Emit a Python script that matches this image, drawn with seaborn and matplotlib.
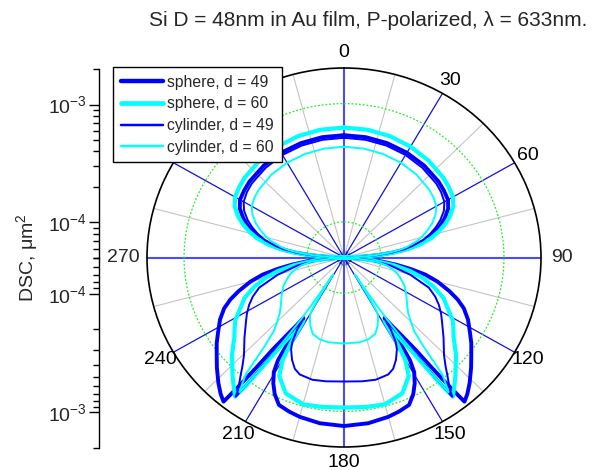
import numpy as np
import pandas as pd
import matplotlib
matplotlib.use("Agg")
import matplotlib.pyplot as plt
import seaborn as sns
from matplotlib.lines import Line2D
from matplotlib.ticker import LogLocator, NullFormatter, LogFormatterSciNotation

sns.set_theme(style="ticks")
plt.rcParams['font.family'] = ['Liberation Sans', 'DejaVu Sans']
plt.rcParams['mathtext.fontset'] = 'custom'
plt.rcParams['mathtext.rm'] = 'Liberation Sans'
plt.rcParams['mathtext.it'] = 'Liberation Sans:italic'
plt.rcParams['mathtext.bf'] = 'Liberation Sans:bold'

# ---------------- data (angles in degrees 0..180; the chart is mirror-symmetric) -------------
series_names = ["sphere, d = 49", "sphere, d = 60", "cylinder, d = 49", "cylinder, d = 60"]

theta_sphere_49 = [0, 10, 20, 30, 40, 50, 55, 60, 64, 68, 71, 74, 77, 80, 82, 84, 86, 87.5, 88.5,
                   91.5, 94, 96, 98, 100, 102.3, 105, 108.4, 111, 113.8, 117.5, 121.5, 125, 128.7,
                   132, 136, 139, 141.2,
                   141.8, 142.5, 143.3, 144.5, 146, 147.2, 147.7, 148.3, 149.5, 151.6, 154, 157,
                   161, 165, 172, 180]
dsc_sphere_49 = [5.41e-4, 5.39e-4, 5.34e-4, 5.27e-4, 5.17e-4, 5.02e-4, 4.89e-4, 4.74e-4, 4.38e-4,
                 3.82e-4, 3.37e-4, 2.91e-4, 2.47e-4, 1.95e-4, 1.64e-4, 1.26e-4, 9.32e-5, 6.96e-5,
                 5.0e-5,
                 5.0e-5, 7.10e-5, 9.88e-5, 1.32e-4, 1.74e-4, 2.37e-4, 3.06e-4, 4.01e-4, 4.88e-4,
                 5.81e-4, 6.85e-4, 7.93e-4, 9.18e-4, 1.06e-3, 1.23e-3, 1.48e-3, 1.69e-3, 1.83e-3,
                 1.24e-3, 7.63e-4, 4.69e-4, 3.30e-4, 2.47e-4, 2.03e-4, 3.50e-4, 5.27e-4, 6.66e-4,
                 8.09e-4, 9.64e-4, 1.13e-3, 1.19e-3, 1.24e-3, 1.30e-3, 1.33e-3]

theta_sphere_60 = [0, 10, 20, 30, 40, 50, 55, 60, 64, 68, 71, 74, 77, 80, 82, 84, 86, 87.5, 88.5,
                   91.5, 94, 96, 99, 102, 105, 109, 113, 117, 121, 124, 127, 132, 135, 138, 141, 143,
                   143.6, 144.2, 145, 146.5, 148.5, 149.2, 150, 152.3, 157.6, 165, 172, 180]
dsc_sphere_60 = [6.28e-4, 6.25e-4, 6.18e-4, 6.04e-4, 5.87e-4, 5.64e-4, 5.48e-4, 5.27e-4, 4.88e-4,
                 4.25e-4, 3.71e-4, 3.18e-4, 2.67e-4, 2.11e-4, 1.70e-4, 1.30e-4, 9.51e-5, 7.10e-5,
                 5.0e-5,
                 5.0e-5, 6.70e-5, 8.62e-5, 1.27e-4, 1.77e-4, 2.28e-4, 3.00e-4, 3.79e-4, 4.42e-4,
                 5.38e-4, 5.92e-4, 6.53e-4, 8.41e-4, 9.64e-4, 1.13e-3, 1.32e-3, 1.48e-3,
                 1.13e-3, 7.63e-4, 4.97e-4, 3.18e-4, 2.15e-4, 3.50e-4, 4.97e-4, 6.79e-4, 8.74e-4,
                 9.64e-4, 9.45e-4, 9.27e-4]

theta_cyl_49 = [0, 10, 20, 30, 40, 50, 55, 60, 64, 68, 71, 74, 77, 80, 82, 84, 86, 87.5, 88.5,
                91.5, 94, 96, 100, 105.2, 110.3, 114, 117.5, 121, 124.2, 130, 135.4, 138, 140,
                142.4, 143.2,
                143.7, 144.3, 145.3, 146.5, 147.5, 148, 149.5, 151, 154, 157, 160, 166, 172, 180]
dsc_cyl_49 = [5.14e-4, 5.12e-4, 5.08e-4, 5.01e-4, 4.89e-4, 4.74e-4, 4.60e-4, 4.38e-4, 4.01e-4,
              3.50e-4, 3.09e-4, 2.69e-4, 2.30e-4, 1.84e-4, 1.56e-4, 1.21e-4, 9.05e-5, 6.83e-5,
              5.0e-5,
              5.0e-5, 6.32e-5, 8.14e-5, 1.20e-4, 1.82e-4, 2.72e-4, 3.24e-4, 3.71e-4, 4.17e-4,
              4.60e-4, 5.70e-4, 7.20e-4, 8.57e-4, 1.02e-3, 1.29e-3, 1.48e-3,
              9.27e-4, 5.70e-4, 3.50e-4, 2.47e-4, 2.03e-4, 2.62e-4, 3.37e-4, 3.86e-4, 4.60e-4,
              5.27e-4, 5.64e-4, 5.81e-4, 5.70e-4, 5.59e-4]

theta_cyl_60 = [0, 10, 20, 30, 40, 50, 55, 60, 64, 68, 71, 74, 77, 80, 82, 84, 86, 87.5, 88.5,
                91.5, 94, 97.5, 101, 104, 107.5, 110.9, 116, 122.3, 128, 132, 135, 137.5, 139.5,
                141, 142.5, 143.3,
                144, 144.8, 145.5, 146.2, 146.8, 147.4, 148, 148.6, 149.2, 149.6, 150.5, 152, 155,
                158.5, 164, 170, 180]
dsc_cyl_60 = [4.32e-4, 4.30e-4, 4.27e-4, 4.21e-4, 4.12e-4, 3.97e-4, 3.86e-4, 3.68e-4, 3.37e-4,
              2.97e-4, 2.64e-4, 2.33e-4, 2.01e-4, 1.67e-4, 1.43e-4, 1.13e-4, 8.71e-5, 6.70e-5,
              5.0e-5,
              5.0e-5, 6.08e-5, 9.32e-5, 1.13e-4, 1.27e-4, 1.43e-4, 1.55e-4, 1.77e-4, 1.99e-4,
              2.24e-4, 2.52e-4, 2.94e-4, 3.50e-4, 5.17e-4, 9.27e-4, 1.17e-3, 1.32e-3,
              7.63e-4, 4.69e-4, 3.18e-4, 2.15e-4, 1.46e-4, 9.88e-5, 7.38e-5, 9.88e-5, 1.32e-4,
              1.64e-4, 1.81e-4, 1.95e-4, 2.20e-4, 2.47e-4, 2.62e-4, 2.67e-4, 2.67e-4]

angle_ticks_deg = [0, 30, 60, 90, 120, 150, 180, 210, 240, 270, 300, 330]
angle_tick_labels = ["0", "30", "60", "", "120", "150", "180", "210", "240", "", "", ""]
R_MIN, R_MAX = 5e-5, 2e-3

styles = {
    "sphere, d = 49": ("#0000ff", 2.8),
    "sphere, d = 60": ("#00ffff", 3.0),
    "cylinder, d = 49": ("#0000ff", 1.4),
    "cylinder, d = 60": ("#00ffff", 1.4),
}


def full_circle(th, r):
    th = np.asarray(th, float)
    r = np.asarray(r, float)
    th_all = np.concatenate([th, 360.0 - th[::-1][1:]])
    r_all = np.concatenate([r, r[::-1][1:]])
    return th_all, r_all


frames = []
for name, th, r in [("sphere, d = 49", theta_sphere_49, dsc_sphere_49),
                    ("sphere, d = 60", theta_sphere_60, dsc_sphere_60),
                    ("cylinder, d = 49", theta_cyl_49, dsc_cyl_49),
                    ("cylinder, d = 60", theta_cyl_60, dsc_cyl_60)]:
    ta, ra = full_circle(th, r)
    frames.append(pd.DataFrame({"theta": np.deg2rad(ta), "dsc": ra, "series": name}))
df = pd.concat(frames, ignore_index=True)

# ---------------- figure ----------------
W, H = 603, 470
fig = plt.figure(figsize=(W / 100, H / 100), dpi=100)
ax = fig.add_axes([147 / W, (H - 447) / H, 394 / W, 379 / H], projection="polar")
ax.set_aspect("auto")
ax.set_theta_zero_location("N")
ax.set_theta_direction(-1)

# grid: spokes and dotted circles
for deg in range(0, 360, 30):
    main = deg % 90 == 0
    ax.plot([np.deg2rad(deg)] * 2, [R_MIN, R_MAX],
            color="#4a4aff" if main else "#1010e0",
            lw=1.5 if main else 0.9, zorder=1)
for deg in range(15, 360, 30):
    ax.plot([np.deg2rad(deg)] * 2, [R_MIN, R_MAX], color="#c4c4c4", lw=0.8, zorder=0.9)
circ = np.linspace(0, 2 * np.pi, 721)
for rv in (1e-4, 1e-3):
    ax.plot(circ, np.full_like(circ, rv), color="#22ee22", lw=0.9, ls=(0, (1.5, 1.5)), zorder=1)

for name in series_names:
    c, lw = styles[name]
    sns.lineplot(data=df[df.series == name], x="theta", y="dsc", ax=ax, color=c,
                 linewidth=lw, sort=False, estimator=None, legend=False, zorder=3,
                 solid_joinstyle="round", solid_capstyle="round")

ax.set_rscale("log")
ax.set_rlim(R_MIN, R_MAX)
ax.set_xlabel("")
ax.set_ylabel("")
ax.grid(False)
ax.set_yticks([])
ax.set_xticks(np.deg2rad(angle_ticks_deg))
ax.set_xticklabels(angle_tick_labels)
ax.set_xticks(np.deg2rad(np.arange(15, 360, 30)), minor=True)
ax.tick_params(axis="x", which="both", bottom=True, top=False, direction="in",
               length=5, width=1, color="black", pad=4, labelsize=14, labelcolor="black")
ax.spines["polar"].set_color("black")
ax.spines["polar"].set_linewidth(1.2)
# side angle labels (placed a little further from the circle)
ax.annotate("90", xy=(np.deg2rad(90), R_MAX), xytext=(7, 0), textcoords="offset points",
            ha="left", va="center", fontsize=14, annotation_clip=False)
ax.annotate("270", xy=(np.deg2rad(270), R_MAX), xytext=(-5, 0), textcoords="offset points",
            ha="right", va="center", fontsize=14, annotation_clip=False)

# left radial scale (mirrored log axis)
top_ax = fig.add_axes([99 / W, (H - 258) / H, 0.001, 189 / H])
bot_ax = fig.add_axes([99 / W, (H - 448) / H, 0.001, 190 / H])
for a, inv in ((top_ax, False), (bot_ax, True)):
    a.set_yscale("log")
    if inv:
        a.set_ylim(R_MAX, R_MIN)
    else:
        a.set_ylim(R_MIN, R_MAX)
    a.patch.set_visible(False)
    for s in ("top", "right", "bottom"):
        a.spines[s].set_visible(False)
    a.spines["left"].set_color("black")
    a.spines["left"].set_linewidth(1.0)
    a.set_xticks([])
    a.yaxis.set_major_locator(LogLocator(base=10, numticks=10))
    a.yaxis.set_minor_locator(LogLocator(base=10, subs=np.arange(2, 10), numticks=10))
    a.yaxis.set_major_formatter(LogFormatterSciNotation())
    a.yaxis.set_minor_formatter(NullFormatter())
    a.tick_params(axis="y", which="major", left=True, direction="out", length=7, width=1,
                  color="black", labelsize=14, pad=2)
    a.tick_params(axis="y", which="minor", left=True, direction="out", length=4, width=1,
                  color="black")

fig.text(27 / W, 1 - 258 / H, "DSC, μm$^2$", rotation=90, ha="center", va="center", fontsize=14)
fig.text(368 / W, 1 - 20.5 / H, "Si D = 48nm in Au film, P-polarized, λ = 633nm.",
         ha="center", va="center", fontsize=15)

handles = [Line2D([], [], color=styles[n][0], lw=styles[n][1] + 0.4) for n in series_names]
leg = fig.legend(handles, series_names, loc="upper left", bbox_to_anchor=(113 / W, 1 - 67 / H),
                 frameon=True, fancybox=False, edgecolor="black", framealpha=1,
                 fontsize=11.3, handlelength=2.7, handletextpad=0.25, labelspacing=0.42,
                 borderpad=0.5, borderaxespad=0)
leg.get_frame().set_linewidth(1.0)

fig.savefig("out.png", dpi=100)
